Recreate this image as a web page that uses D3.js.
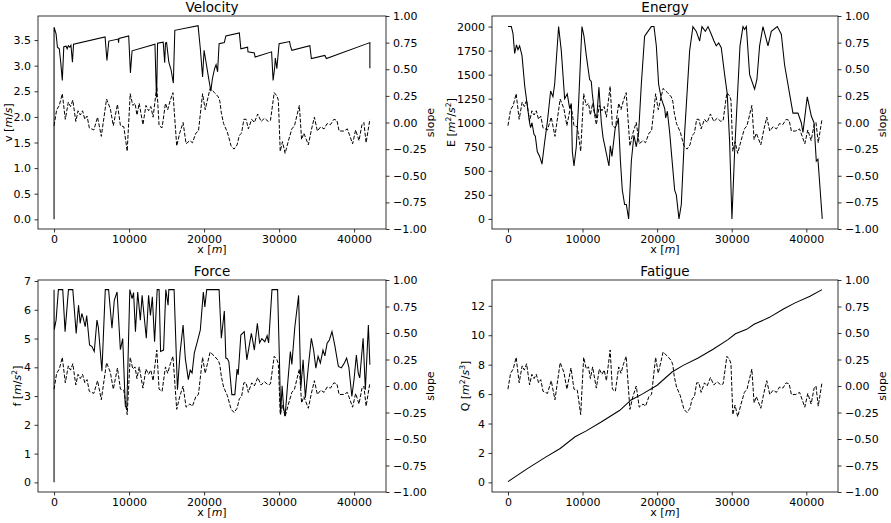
<!DOCTYPE html>
<html>
<head>
<script src="https://d3js.org/d3.v7.min.js" type="text/javascript"></script>
<style>
  body { margin: 0; background: #fff; }
  text { font-family: "DejaVu Sans", sans-serif; }
</style>
</head>
<body>
<svg id="svg" width="891" height="523"></svg>
<script type="text/javascript">
// shared slope profile (dashed, right axis) [x in m, slope]
var slope = [[0,-0.03],[350,0.12],[700,0.16],[1100,0.27],[1500,0.03],[1900,0.19],[2200,0.15],[2500,0.21],
  [2900,0.01],[3200,0.11],[3500,0.07],[3800,0.11],[4100,0.03],[4400,0.06],[4700,-0.05],[5300,-0.07],
  [5800,0.05],[6300,-0.13],[7000,0.22],[7500,0.13],[7900,-0.03],[8450,0.17],[8850,-0.03],[9300,-0.04],
  [9750,-0.27],[10150,0.27],[10500,0.16],[10800,0.18],[11050,0.07],[11350,0.18],[11850,-0.02],[12250,0.16],
  [12600,0.11],[12900,0.15],[13200,0.05],[13700,0.34],[14000,-0.03],[14400,-0.05],[14850,0.18],[15150,0.12],
  [15500,0.21],[15850,0.28],[16350,-0.22],[16750,-0.10],[17200,0.00],[17600,-0.20],[18100,-0.17],[18450,-0.19],
  [18900,-0.10],[19250,-0.08],[19800,0.27],[20150,0.12],[20800,0.32],[21400,0.28],[21900,0.24],[22100,0.20],
  [22300,0.09],[22600,-0.01],[23100,-0.09],[23600,-0.22],[24000,-0.25],[24400,-0.21],[24700,-0.12],[25000,-0.10],
  [25300,0.03],[25600,0.03],[25900,-0.06],[26350,0.03],[26700,0.00],[27150,0.08],[27600,0.01],[28050,0.04],
  [28550,0.01],[28850,0.02],[29350,0.28],[29700,0.25],[29900,0.21],[30150,-0.27],[30450,-0.18],[30800,-0.29],
  [31250,-0.17],[31700,-0.06],[32050,-0.03],[32700,0.16],[33000,-0.16],[33300,-0.10],[33900,-0.21],[34300,-0.07],
  [34700,0.05],[35100,-0.08],[35550,-0.04],[36000,-0.06],[36400,-0.01],[36850,-0.02],[37300,0.03],[37700,0.02],
  [38000,-0.08],[38600,-0.08],[39100,-0.06],[39800,-0.20],[40200,-0.07],[40650,-0.17],[41050,-0.02],[41300,0.00],
  [41600,-0.19],[42100,0.03]];

var velocity = [[0,0],[0,3.75],[270,3.62],[450,3.36],[700,3.33],[900,3.05],[1100,2.71],[1300,3.37],[1600,3.38],
  [1750,3.33],[1900,3.39],[2100,3.36],[2250,3.40],[2450,3.07],[2600,3.42],[6800,3.56],[7050,3.10],[7300,3.48],
  [8550,3.52],[8600,3.45],[8650,3.53],[9950,3.58],[10180,2.86],[10400,3.29],[13450,3.42],[13650,2.38],[13700,2.64],
  [13800,3.44],[14550,3.46],[14750,3.06],[14850,3.44],[15000,3.45],[15300,3.07],[15600,2.92],[15900,2.66],
  [16100,3.69],[19200,3.78],[19500,3.33],[19800,2.78],[20000,3.30],[20200,3.12],[20500,2.85],[20900,2.50],
  [21100,2.74],[21400,2.94],[21600,3.02],[21800,2.88],[22000,3.43],[22700,3.45],[22900,3.58],[24700,3.64],
  [24900,3.33],[25800,3.36],[25850,3.27],[26700,3.25],[26800,3.17],[29000,3.27],[29200,2.71],[29400,2.95],
  [29500,3.15],[29700,2.94],[30000,3.43],[31400,3.47],[31500,3.39],[31700,3.30],[34100,3.39],[34300,3.14],
  [36100,3.20],[36300,3.14],[42100,3.45],[42100,2.95]];

var energy = [[0,2000],[450,2000],[670,1930],[900,1720],[1140,1810],[1340,1760],[1560,1800],[1880,1700],
  [2250,1380],[2900,1000],[3040,950],[3220,1000],[3490,880],[3670,860],[3930,700],[4250,650],[4560,570],
  [4920,800],[5270,1000],[5720,1330],[6030,1270],[6260,1400],[6790,2000],[7150,1750],[7600,1250],[7950,1300],
  [8270,1150],[8490,1200],[8630,700],[8850,550],[9160,750],[9470,1200],[9920,2000],[10190,1900],[10500,1700],
  [10950,1450],[11170,1430],[11310,1300],[11620,1100],[11900,1050],[12200,1370],[12380,1150],[12520,1000],
  [12740,850],[13540,550],[13720,760],[13940,650],[14390,950],[14660,1000],[14800,1050],[15080,600],[15330,300],
  [15640,150],[15870,150],[16180,0],[16540,600],[16890,870],[17210,750],[17520,900],[17880,1400],[18320,1900],
  [18770,1950],[19220,2000],[19580,2000],[19890,1800],[20200,1400],[20560,1250],[21010,1150],[21150,1050],
  [21370,1120],[21680,900],[21900,700],[22350,300],[22570,250],[22930,0],[23240,150],[23690,900],[24360,1750],
  [24800,2000],[25250,1950],[25700,1850],[26010,2000],[26460,1950],[26820,2000],[27260,1920],[27620,1850],
  [27930,1800],[28250,1830],[28600,1780],[29050,1500],[29400,1300],[29720,800],[30030,0],[30390,700],
  [30750,1250],[31110,1800],[31510,2000],[31730,1970],[31960,2000],[32400,1500],[33070,1350],[33380,1450],
  [33740,1800],[34190,2000],[34860,1800],[35310,1950],[36110,2000],[36650,1920],[37090,1600],[38210,1100],
  [38880,1100],[39330,1000],[39550,900],[40130,1270],[40670,1070],[41030,1000],[41340,600],[41560,620],[42140,0]];

var force = [[0,0],[0,6.7],[20,5.3],[270,5.64],[580,6.7],[1160,6.7],[1470,5.24],[1920,6.7],[2500,6.7],
  [2950,5.18],[3260,6.16],[3480,5.53],[3700,5.87],[3900,5.7],[4150,5.41],[4350,5.8],[4730,4.78],[5050,4.72],
  [5360,4.55],[5720,5.64],[5900,5.4],[6380,3.86],[6830,6.7],[7270,6.7],[7720,5.36],[8030,6.33],[8400,6.62],
  [8840,4.61],[9150,5.0],[9500,2.65],[9700,2.59],[10100,6.7],[10400,6.39],[10600,6.6],[10850,5.24],[11150,6.62],
  [11500,5.64],[11740,6.5],[12000,5.8],[12300,5.01],[12600,6.5],[12850,5.8],[13100,6.45],[13400,4.89],
  [13750,6.7],[14000,6.7],[14200,4.55],[14600,4.6],[14900,6.7],[15200,6.16],[15300,6.7],[16000,6.7],
  [16450,3.22],[16800,4.5],[17200,5.47],[17500,4.3],[17900,3.57],[18150,3.9],[18400,3.8],[18700,4.5],
  [19100,4.89],[19500,5.3],[19900,6.62],[20100,6.1],[20350,6.7],[22000,6.7],[22300,5.01],[22700,5.96],
  [22900,4.32],[23100,4.3],[23300,4.2],[23700,3.05],[24100,3.05],[24400,3.94],[24550,3.74],[24900,5.12],
  [25350,5.24],[25700,4.26],[26300,5.18],[26500,4.9],[26700,4.6],[27100,5.53],[27400,4.85],[27700,5.0],
  [28100,4.89],[28400,5.1],[28600,4.85],[29050,6.7],[29800,6.7],[30050,4.2],[30200,2.36],[30400,3.36],
  [30600,2.6],[30800,2.3],[31100,3.3],[31500,4.55],[31700,4.1],[32100,5.41],[32600,6.5],[32900,3.28],
  [33200,4.26],[33500,2.94],[33900,4.03],[34300,5.01],[34600,4.6],[34900,3.97],[35200,4.38],[35500,4.15],
  [35850,4.6],[36100,4.4],[36400,4.84],[36700,4.95],[37050,5.24],[37400,4.8],[37900,4.03],[38300,3.98],
  [38700,4.15],[39000,4.32],[39300,4.0],[39700,2.99],[40000,3.6],[40300,4.43],[40550,3.8],[40750,3.63],
  [41200,5.01],[41500,3.22],[41900,5.47],[42100,4.09]];

var fatigue = [[0,0.05],[2500,0.9],[5000,1.7],[7000,2.3],[9000,3.1],[10500,3.5],[12500,4.1],[15000,4.9],
  [16500,5.6],[18000,6.0],[20000,6.6],[22000,7.5],[23500,7.95],[25500,8.45],[27500,9.05],[29500,9.7],
  [30500,10.1],[32000,10.4],[33000,10.75],[35000,11.2],[37000,11.8],[38500,12.2],[40500,12.65],[42100,13.1]];

var xTicks = [0, 10000, 20000, 30000, 40000];
var slopeTicks = [-1, -0.75, -0.5, -0.25, 0, 0.25, 0.5, 0.75, 1];

var panels = [
  {title: "Velocity", data: velocity, yDomain: [-0.189, 3.97], yTicks: d3.range(0, 3.6, 0.5), fmt: d3.format(".1f"),
   label: [["v ["], ["m", 1], ["/"], ["s", 1], ["]"]], left: 38, top: 16, w: 348, h: 213, labelX: 12, slopeX: 434},
  {title: "Energy", data: energy, yDomain: [-105, 2110], yTicks: d3.range(0, 2001, 250), fmt: d3.format("d"),
   label: [["E ["], ["m", 1], ["2", 0, 1], ["/"], ["s", 1], ["2", 0, 1], ["]"]], left: 492, top: 16, w: 346, h: 213, labelX: 455, slopeX: 886},
  {title: "Force", data: force, yDomain: [-0.335, 7.035], yTicks: d3.range(0, 8, 1), fmt: d3.format("d"),
   label: [["f ["], ["m", 1], ["/"], ["s", 1], ["2", 0, 1], ["]"]], left: 38, top: 280, w: 348, h: 212, labelX: 21, slopeX: 434},
  {title: "Fatigue", data: fatigue, yDomain: [-0.655, 13.755], yTicks: d3.range(0, 13, 2), fmt: d3.format("d"),
   label: [["Q ["], ["m", 1], ["2", 0, 1], ["/"], ["s", 1], ["3", 0, 1], ["]"]], left: 492, top: 280, w: 346, h: 212, labelX: 469, slopeX: 886}
];

var svg = d3.select("svg");
var fontSize = 11;

function slopeFmt(d) {
  return (d < 0 ? "\u2212" : "") + Math.abs(d).toFixed(2);
}

function styleAxis(g) {
  g.select(".domain").remove();
  g.selectAll(".tick line").attr("stroke", "#000").attr("stroke-width", 0.8);
  g.selectAll(".tick text").attr("fill", "#000").style("font-size", fontSize + "px")
    .style("font-family", "DejaVu Sans");
}

function addLabel(text, parts) {
  parts.forEach(function(p) {
    var t = text.append("tspan").text(p[0]);
    if (p[1]) t.style("font-style", "italic");
    if (p[2]) t.attr("baseline-shift", "super").style("font-size", (fontSize * 0.7) + "px");
  });
}

panels.forEach(function(p) {
  var x = d3.scaleLinear().domain([-2140, 44250]).range([p.left, p.left + p.w]);
  var y = d3.scaleLinear().domain(p.yDomain).range([p.top + p.h, p.top]);
  var y2 = d3.scaleLinear().domain([-1, 1]).range([p.top + p.h, p.top]);

  var g = svg.append("g");

  var line = d3.line().x(function(d) { return x(d[0]); }).y(function(d) { return y(d[1]); });
  var line2 = d3.line().x(function(d) { return x(d[0]); }).y(function(d) { return y2(d[1]); });

  g.append("path").datum(p.data).attr("d", line)
    .attr("fill", "none").attr("stroke", "#000").attr("stroke-width", 1.05);
  g.append("path").datum(slope).attr("d", line2)
    .attr("fill", "none").attr("stroke", "#000").attr("stroke-width", 1)
    .attr("stroke-dasharray", "3.9,1.7");

  // frame
  g.append("rect").attr("x", p.left).attr("y", p.top).attr("width", p.w).attr("height", p.h)
    .attr("fill", "none").attr("stroke", "#000").attr("stroke-width", 0.8);

  g.append("g").attr("transform", "translate(0," + (p.top + p.h) + ")")
    .call(d3.axisBottom(x).tickValues(xTicks).tickFormat(d3.format("d")).tickSize(3.5).tickPadding(3))
    .call(styleAxis);
  g.append("g").attr("transform", "translate(" + p.left + ",0)")
    .call(d3.axisLeft(y).tickValues(p.yTicks).tickFormat(p.fmt).tickSize(3.5).tickPadding(3.5))
    .call(styleAxis);
  g.append("g").attr("transform", "translate(" + (p.left + p.w) + ",0)")
    .call(d3.axisRight(y2).tickValues(slopeTicks).tickFormat(slopeFmt).tickSize(3.5).tickPadding(3.5))
    .call(styleAxis);

  var cx = p.left + p.w / 2, cy = p.top + p.h / 2;

  g.append("text").attr("x", cx).attr("y", p.top - 4).attr("text-anchor", "middle")
    .style("font-size", "13.5px").text(p.title);

  var xl = g.append("text").attr("x", cx).attr("y", p.top + p.h + 24).attr("text-anchor", "middle")
    .style("font-size", fontSize + "px");
  addLabel(xl, [["x ["], ["m", 1], ["]"]]);

  var yl = g.append("text").attr("text-anchor", "middle").style("font-size", fontSize + "px")
    .attr("transform", "translate(" + p.labelX + "," + cy + ") rotate(-90)");
  addLabel(yl, p.label);

  g.append("text").attr("text-anchor", "middle").style("font-size", fontSize + "px")
    .attr("transform", "translate(" + p.slopeX + "," + cy + ") rotate(-90)")
    .text("slope");
});
</script>
</body>
</html>
